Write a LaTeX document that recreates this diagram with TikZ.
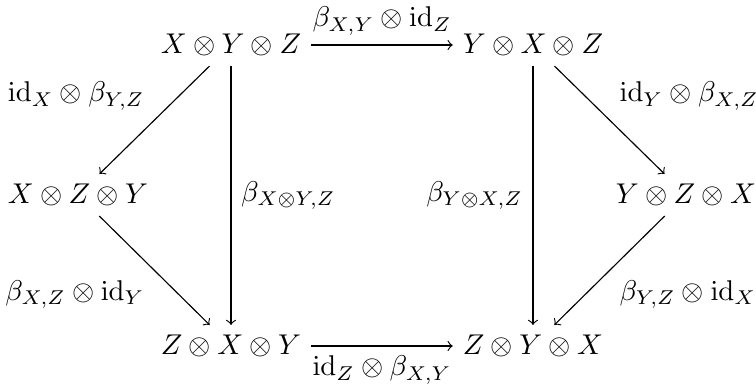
\documentclass[tikz,border=0pt]{standalone}
\usepackage{amsmath}

\begin{document}
\begin{tikzpicture}[x=0.35pt,y=-0.35pt, flecha/.style={->}] % 1 unidad = 1 pixel aprox.

        \useasboundingbox (0,0) rectangle (756,385); % Margenes

        % Objetos del hexagono
        \node (xyz) at (231,45) {$X\otimes Y\otimes Z$};
        \node (yxz) at (533,45) {$Y\otimes X\otimes Z$};
        \node (xzy) at (78,195) {$X\otimes Z\otimes Y$};
        \node (yzx) at (686,195) {$Y\otimes Z\otimes X$};
        \node (zxy) at (231,346) {$Z\otimes X\otimes Y$};
        \node (zyx) at (533,346) {$Z\otimes Y\otimes X$};

        % Flechas horizontales
        \draw[flecha] (xyz) -- node[above] {$\beta_{X,Y}\otimes\mathrm{id}_Z$} (yxz);
        \draw[flecha] (zxy) -- node[below] {$\mathrm{id}_Z\otimes\beta_{X,Y}$} (zyx);

        % Lado izquierdo
        \draw[flecha] (xyz) -- node[above left] {$\mathrm{id}_X\otimes\beta_{Y,Z}$} (xzy);
        \draw[flecha] (xzy) -- node[below left] {$\beta_{X,Z}\otimes\mathrm{id}_Y$} (zxy);

        % Lado derecho
        \draw[flecha] (yxz) -- node[above right] {$\mathrm{id}_Y\otimes\beta_{X,Z}$} (yzx);
        \draw[flecha] (yzx) -- node[below right] {$\beta_{Y,Z}\otimes\mathrm{id}_X$} (zyx);

        % Flechas verticales
        \draw[flecha] (xyz) -- node[right] {$\beta_{X\otimes Y,Z}$} (zxy);
        \draw[flecha] (yxz) -- node[left] {$\beta_{Y\otimes X,Z}$} (zyx);

    \end{tikzpicture}
\end{document}
